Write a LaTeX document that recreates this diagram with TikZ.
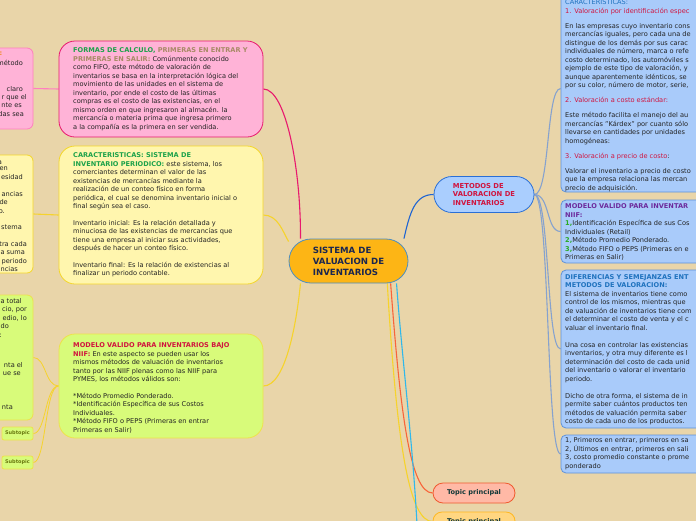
\documentclass[tikz,border=0pt]{standalone}
\usepackage{fontspec}
\setmainfont{DejaVu Sans}
\usetikzlibrary{backgrounds}
\definecolor{bg}{HTML}{E9D5A9}
\definecolor{bodyc}{HTML}{222222}
\definecolor{pinkfill}{HTML}{FFB3D7}
\definecolor{pinkedge}{HTML}{E8196E}
\definecolor{pinkedgeL}{HTML}{FF7FBF}
\definecolor{yelfill}{HTML}{FFF6AE}
\definecolor{yeledge}{HTML}{F4D62A}
\definecolor{grnfill}{HTML}{D8FB7A}
\definecolor{grnedge}{HTML}{EEE24A}
\definecolor{cenfill}{HTML}{FDB515}
\definecolor{cenedge}{HTML}{4A8EC4}
\definecolor{metfill}{HTML}{AACEFE}
\definecolor{metedge}{HTML}{2A6FD6}
\definecolor{rbfill}{HTML}{A9CBFA}
\definecolor{rbedge}{HTML}{5F92DA}
\definecolor{tpfill}{HTML}{FFB9A6}
\definecolor{tpedge}{HTML}{F0592E}
\definecolor{t2fill}{HTML}{FFD681}
\definecolor{t2edge}{HTML}{FFB71E}
\definecolor{greenh}{HTML}{1CA24A}
\definecolor{tanh}{HTML}{A88A66}
\definecolor{redh}{HTML}{D0143E}
\definecolor{purph}{HTML}{6C2A9C}
\definecolor{blueh}{HTML}{1F72BE}
\definecolor{greenn}{HTML}{2AAA22}
\definecolor{navy}{HTML}{1A2650}
\definecolor{tptext}{HTML}{123838}
\definecolor{subtext}{HTML}{6A7A10}
\definecolor{orangec}{HTML}{F8643A}
\definecolor{bluec}{HTML}{1E64D2}
\definecolor{cyanc}{HTML}{2FB8EC}
\definecolor{metconn}{HTML}{86A2CE}
\definecolor{yelconn}{HTML}{F6D32C}
\definecolor{bodyorange}{HTML}{F08A1C}
\tikzset{
  bx/.style={line width=0.8pt, inner sep=0pt},
  txt/.style={anchor=north west, inner sep=0pt, align=left, text=bodyc, font=\fontsize{6.6}{8.5}\selectfont},
  frag/.style={anchor=base east, inner sep=0pt, text=bodyc, font=\fontsize{6.6}{8.5}\selectfont},
  conn/.style={line width=1.1pt},
  rbox/.style={bx, draw=rbedge, fill=rbfill, rounded corners=5pt, minimum width=159pt},
  subbox/.style={bx, draw=grnedge, fill=grnfill, rounded corners=2pt, minimum width=31pt, minimum height=13pt, text=subtext, font=\fontsize{5}{6}\selectfont\bfseries},
}
\begin{document}
\begin{tikzpicture}[x=1pt,y=-1pt]
\useasboundingbox (0,0) rectangle (696,520);

% ---- left partial boxes
\node[bx, draw=pinkedgeL, fill=pinkfill, rounded corners=6pt, minimum width=55pt, minimum height=81pt] (lpink) at (5.5,88.5) {};
\node[frag, text=bodyorange] (lp0) at (2.5,55) {\textbf{:}};
\node[frag] (lp1) at (23,65) {método};
\node[frag] (lp2) at (23,91) {claro};
\node[frag] (lp3) at (27,99) {r que el};
\node[frag] (lp4) at (22,107.5) {nte es};
\node[frag] (lp5) at (24,116) {das sea};

\node[bx, draw=yeledge, fill=yelfill, rounded corners=6pt, minimum width=55pt, minimum height=118pt] (lyel) at (5.5,214) {};
\node[frag] (ly1) at (2,164) {a};
\node[frag] (ly2) at (8,170.5) {en};
\node[frag] (ly3) at (23,179) {esidad};
\node[frag] (ly4) at (23,196) {ancias};
\node[frag] (ly5) at (8,204.5) {de};
\node[frag] (ly6) at (5,213) {o.};
\node[frag] (ly7) at (22,229.5) {stema};
\node[frag] (ly8) at (27,246) {tra cada};
\node[frag] (ly9) at (25,254.5) {a suma};
\node[frag] (ly10) at (27,263) {periodo};
\node[frag] (ly11) at (18,271.5) {ncias};

\node[bx, draw=grnedge, fill=grnfill, rounded corners=6pt, minimum width=55pt, minimum height=125pt] (lgrn) at (5.5,357.5) {};
\node[frag] (lg1) at (22,303) {a total};
\node[frag] (lg2) at (27,311.5) {cio, por};
\node[frag] (lg3) at (27,320) {edio, lo};
\node[frag] (lg4) at (9,328.5) {do};
\node[frag] (lg5) at (2,337) {:};
\node[frag] (lg6) at (23,367) {nta el};
\node[frag] (lg7) at (21,375.5) {ue se};
\node[frag] (lg8) at (13,409) {nta};

\node[subbox] (sub1) at (17.5,433.5) {Subtopic};
\node[subbox] (sub2) at (17.5,462.5) {Subtopic};

% ---- middle column boxes
\node[bx, draw=pinkedge, fill=pinkfill, rounded corners=16pt, minimum width=204pt, minimum height=96pt] (formas) at (161,89) {};
\node[txt] (formastxt) at (73,47.4) {\textcolor{greenh}{\textbf{FORMAS DE CALCULO,}} \textcolor{tanh}{\textbf{PRIMERAS EN ENTRAR Y}}\\
\textcolor{tanh}{\textbf{PRIMERAS EN SALIR:}} Comúnmente conocido\\
como FIFO, este método de valoración de\\
inventarios se basa en la interpretación lógica del\\
movimiento de las unidades en el sistema de\\
inventario, por ende el costo de las últimas\\
compras es el costo de las existencias, en el\\
mismo orden en que ingresaron al almacén. la\\
mercancía o materia prima que ingresa primero\\
a la compañía es la primera en ser vendida.};

\node[bx, draw=yeledge, fill=yelfill, rounded corners=16pt, minimum width=204pt, minimum height=138pt] (caract) at (161,215) {};
\node[txt] (caracttxt) at (73,152.4) {\textcolor{greenh}{\textbf{CARACTERISTICAS: SISTEMA DE}}\\
\textcolor{greenh}{\textbf{INVENTARIO PERIODICO:}} este sistema, los\\
comerciantes determinan el valor de las\\
existencias de mercancías mediante la\\
realización de un conteo físico en forma\\
periódica, el cual se denomina inventario inicial o\\
final según sea el caso.\\[8pt]
Inventario inicial: Es la relación detallada y\\
minuciosa de las existencias de mercancías que\\
tiene una empresa al iniciar sus actividades,\\
después de hacer un conteo físico.\\[8pt]
Inventario final: Es la relación de existencias al\\
finalizar un periodo contable.};

\node[bx, draw=grnedge, fill=grnfill, rounded corners=16pt, minimum width=204pt, minimum height=104pt] (modelo) at (161,386) {};
\node[txt] (modelotxt) at (73,342.4) {\textcolor{redh}{\textbf{MODELO VALIDO PARA INVENTARIOS BAJO}}\\
\textcolor{redh}{\textbf{NIIF:}} En este aspecto se pueden usar los\\
mismos métodos de valuación de inventarios\\
tanto por las NIIF plenas como las NIIF para\\
PYMES, los métodos válidos son:\\[8pt]
*Método Promedio Ponderado.\\
*Identificación Específica de sus Costos\\
Individuales.\\
*Método FIFO o PEPS (Primeras en entrar\\
Primeras en Salir)};

% ---- central node
\node[bx, draw=cenedge, fill=cenfill, rounded corners=22pt, minimum width=119pt, minimum height=44pt, align=left, text=navy, font=\fontsize{8.6}{11}\selectfont\bfseries] (cent) at (348.5,261) {SISTEMA DE\\VALUACION DE\\INVENTARIOS};

% ---- metodos node
\node[bx, draw=metedge, fill=metfill, rounded corners=18pt, minimum width=100pt, minimum height=36pt, align=left, text=redh, font=\fontsize{6.8}{8.5}\selectfont\bfseries] (metodos) at (484,194.5) {METODOS DE\\VALORACION DE\\INVENTARIOS};

% ---- topic nodes
\node[bx, draw=tpedge, fill=tpfill, rounded corners=10pt, minimum width=82pt, minimum height=20pt, text=tptext, font=\fontsize{6.6}{8}\selectfont\bfseries] (topic1) at (474,493) {Topic principal};
\node[bx, draw=t2edge, fill=t2fill, rounded corners=9pt, minimum width=82pt, minimum height=19pt, text=tptext, font=\fontsize{6.6}{8}\selectfont\bfseries] (topic2) at (474,521.5) {Topic principal};
\coordinate (cyanend) at (418,545);

% ---- right boxes
\node[rbox, minimum height=207pt] (rb1) at (640.5,88.5) {};
\node[txt] (rb1txt) at (565,-0.6) {\textcolor{blueh}{CARACTERISTICAS:}\\
\textcolor{redh}{1. Valoración por identificación espec}\\[6.5pt]
En las empresas cuyo inventario cons\\
mercancías iguales, pero cada una de\\
distingue de los demás por sus carac\\
individuales de número, marca o refe\\
costo determinado, los automóviles s\\
ejemplo de este tipo de valoración, y\\
aunque aparentemente idénticos, se\\
por su color, número de motor, serie,\\[6.5pt]
\textcolor{redh}{2. Valoración a costo estándar:}\\[6.5pt]
Este método facilita el manejo del au\\
mercancías "Kárdex" por cuanto sólo\\
llevarse en cantidades por unidades\\
homogéneas:\\[6.5pt]
\textcolor{redh}{3. Valoración a precio de costo}:\\[6.5pt]
Valorar el inventario a precio de costo\\
que la empresa relaciona las mercan\\
precio de adquisición.};

\node[rbox, minimum height=63pt] (rb2) at (640.5,231.5) {};
\node[txt] (rb2txt) at (565,203.4) {\textcolor{purph}{\textbf{MODELO VALIDO PARA INVENTAR}}\\
\textcolor{purph}{\textbf{NIIF:}}\\
\textcolor{greenn}{\textbf{1,}}Identificación Específica de sus Cos\\
Individuales (Retail)\\
\textcolor{greenn}{\textbf{2,}}Método Promedio Ponderado.\\
\textcolor{greenn}{\textbf{3,}}Método FIFO o PEPS (Primeras en e\\
Primeras en Salir)};

\node[rbox, minimum height=158pt] (rb3) at (640.5,349) {};
\node[txt] (rb3txt) at (565,274.1) {\textcolor{blueh}{\textbf{DIFERENCIAS Y SEMEJANZAS ENT}}\\
\textcolor{blueh}{\textbf{METODOS DE VALORACION:}}\\
El sistema de inventarios tiene como\\
control de los mismos, mientras que\\
de valuación de inventarios tiene com\\
el determinar el costo de venta y el c\\
valuar el inventario final.\\[8.5pt]
Una cosa en controlar las existencias\\
inventarios, y otra muy diferente es l\\
determinación del costo de cada unid\\
del inventario o valorar el inventario\\
periodo.\\[8.5pt]
Dicho de otra forma, el sistema de in\\
permite saber cuántos productos ten\\
métodos de valuación permita saber\\
costo de cada uno de los productos.};

\node[rbox, minimum height=38pt] (rb4) at (640.5,454) {};
\node[txt] (rb4txt) at (565,437.4) {1, Primeros en entrar, primeros en sa\\
2, Últimos en entrar, primeros en sali\\
3, costo promedio constante o prome\\
ponderado};

% ---- background and connectors
\begin{scope}[on background layer]
\fill[bg] (-10,-10) rectangle (706,530);
\draw[conn, draw=pinkedgeL] (lpink.east) -- (formas.west);
\draw[conn, draw=yelconn] (lyel.east) -- (caract.west);
\draw[conn, draw=yelconn, line width=0.8pt] (modelo.west) .. controls (45,386) and (46,357.5) .. (lgrn.east);
\draw[conn, draw=yelconn, line width=0.8pt] (modelo.west) .. controls (45,386) and (46,433.5) .. (sub1.east);
\draw[conn, draw=yelconn, line width=0.8pt] (modelo.west) .. controls (45,386) and (46,462.5) .. (sub2.east);
\draw[conn, draw=pinkedge] (formas.east) .. controls (286,89) and (301,170) .. (cent.155);
\draw[conn, draw=yelconn] (caract.east) .. controls (278,215) and (283,232) .. (cent.162);
\draw[conn, draw=yelconn] (modelo.east) .. controls (286,386) and (297,320) .. (cent.205);
\draw[conn, draw=bluec] (cent.22) .. controls (410,212) and (415,194.5) .. (metodos.west);
\draw[conn, draw=orangec] (cent.-28) .. controls (400,410) and (410,493) .. (topic1.west);
\draw[conn, draw=yelconn] (cent.-30) .. controls (397,450) and (410,521.5) .. (topic2.west);
\draw[conn, draw=cyanc] (cent.-25) .. controls (402,360) and (414,450) .. (cyanend);
\foreach \r in {rb1,rb2,rb3,rb4} {
  \draw[conn, draw=metconn] (metodos.east) .. controls (550,194.5) and (546,0|-\r.west) .. (\r.west);
}
\end{scope}
\end{tikzpicture}
\end{document}
